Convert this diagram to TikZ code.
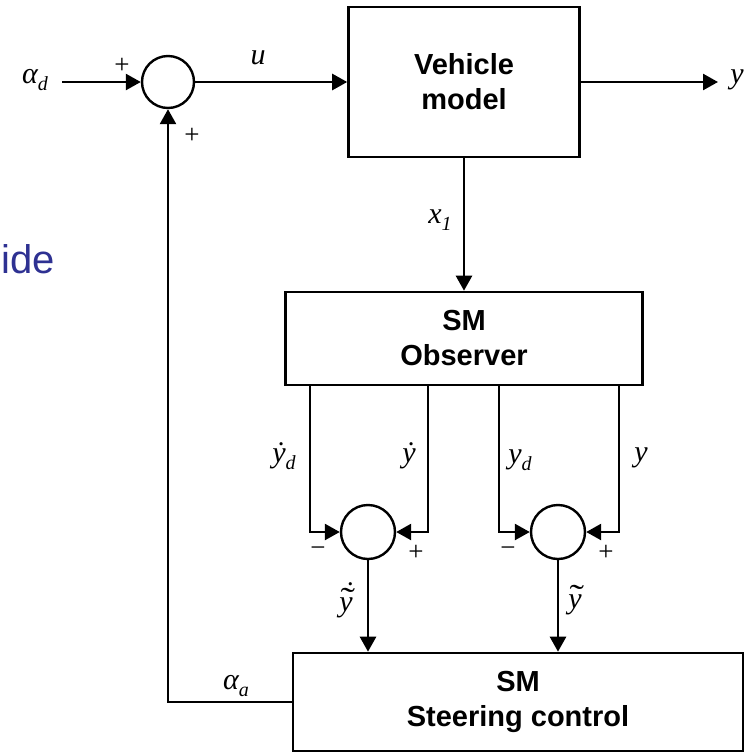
\documentclass[tikz,border=0pt]{standalone}
\usepackage{fontspec}
\setmainfont{Liberation Serif}
\newfontfamily\arialf{Liberation Sans}
\usetikzlibrary{arrows.meta,calc}
\definecolor{slideblue}{RGB}{46,49,146}
\newcommand{\sbs}[1]{\raisebox{-0.25em}{\fontsize{20}{22}\selectfont #1}}
\newcommand{\tily}{\makebox[0pt][l]{\hspace{0.04em}\raisebox{0.02em}{\upshape\scalebox{1.45}[1.1]{˜}}}y}
\newcommand{\dtily}{\makebox[0pt][l]{\hspace{0.2em}\raisebox{0.3em}{\upshape ˙}}\tily}
\begin{document}
\begin{tikzpicture}[x=1pt,y=-1pt,
  line width=2.6pt,
  arr/.style={-{Triangle[length=15pt,width=16pt]}},
  blk/.style={draw,line width=2.6pt,rectangle,inner sep=0pt,align=center,
     font=\arialf\bfseries\fontsize{29}{35}\selectfont},
  sumj/.style={draw,line width=2.4pt,circle,inner sep=0pt},
  lbl/.style={font=\fontsize{30}{32}\selectfont\itshape,inner sep=0pt},
  sgn/.style={font=\fontsize{27}{28}\selectfont,inner sep=0pt}]
\useasboundingbox (0,0) rectangle (746,753);
% blocks
\node[blk,minimum width=231pt,minimum height=150pt] (veh) at (464,82) {Vehicle\\model};
\node[blk,minimum width=357pt,minimum height=93pt] (obs) at (464,338.5) {SM\\Observer};
\node[blk,minimum width=450pt,minimum height=98pt] (st) at (518,702) {SM\\Steering control};
% summing junctions
\node[sumj,minimum size=52pt] (s1) at (168,82) {};
\node[sumj,minimum size=54pt] (s2) at (368,532) {};
\node[sumj,minimum size=54pt] (s3) at (558,532) {};
% free ends
\coordinate (ad) at (62,82);
\coordinate (yo) at (718,82);
\coordinate (o1) at (310,385);
\coordinate (o2) at (428,385);
\coordinate (o3) at (499,385);
\coordinate (o4) at (619,385);
% connectors
\draw[arr] (ad) -- (s1.west);
\draw[arr] (s1.east) -- (veh.west);
\draw[arr] (veh.east) -- (yo);
\draw[arr] (veh.south) -- (obs.north);
\draw[arr] (o1) |- (s2.west);
\draw[arr] (o2) |- (s2.east);
\draw[arr] (o3) |- (s3.west);
\draw[arr] (o4) |- (s3.east);
\draw[arr] (s2.south) -- (s2.south |- st.north);
\draw[arr] (s3.south) -- (s3.south |- st.north);
\draw[arr] (st.west) -| (s1.south);
% labels
\node[lbl] (lad) at (35,80) {α\sbs{d}};
\node[lbl] (lu) at (258,58) {u};
\node[lbl] (ly) at (737,80) {y};
\node[lbl] (lx) at (440,220) {x\sbs{1}};
\node[lbl] (lyd1) at (284,456) {ẏ\sbs{d}};
\node[lbl] (lyd2) at (409,456) {ẏ};
\node[lbl] (lyd3) at (520,460) {y\sbs{d}};
\node[lbl] (lyd4) at (641,458) {y};
\node[lbl] (lyt1) at (346,600) {\dtily};
\node[lbl] (lyt2) at (575,600) {\tily};
\node[lbl] (laa) at (236,686) {α\sbs{a}};
% signs
\node[sgn] (p1) at (122,66) {+};
\node[sgn] (p2) at (192,136) {+};
\node[sgn] (m1) at (318,552) {−};
\node[sgn] (p3) at (416,553) {+};
\node[sgn] (m2) at (508,552) {−};
\node[sgn] (p4) at (606,553) {+};
% clipped slide text
\node[anchor=base west,inner sep=0pt,text=slideblue,font=\arialf\fontsize{40}{44}\selectfont] (ide) at (0,273) {ide};
\end{tikzpicture}
\end{document}
